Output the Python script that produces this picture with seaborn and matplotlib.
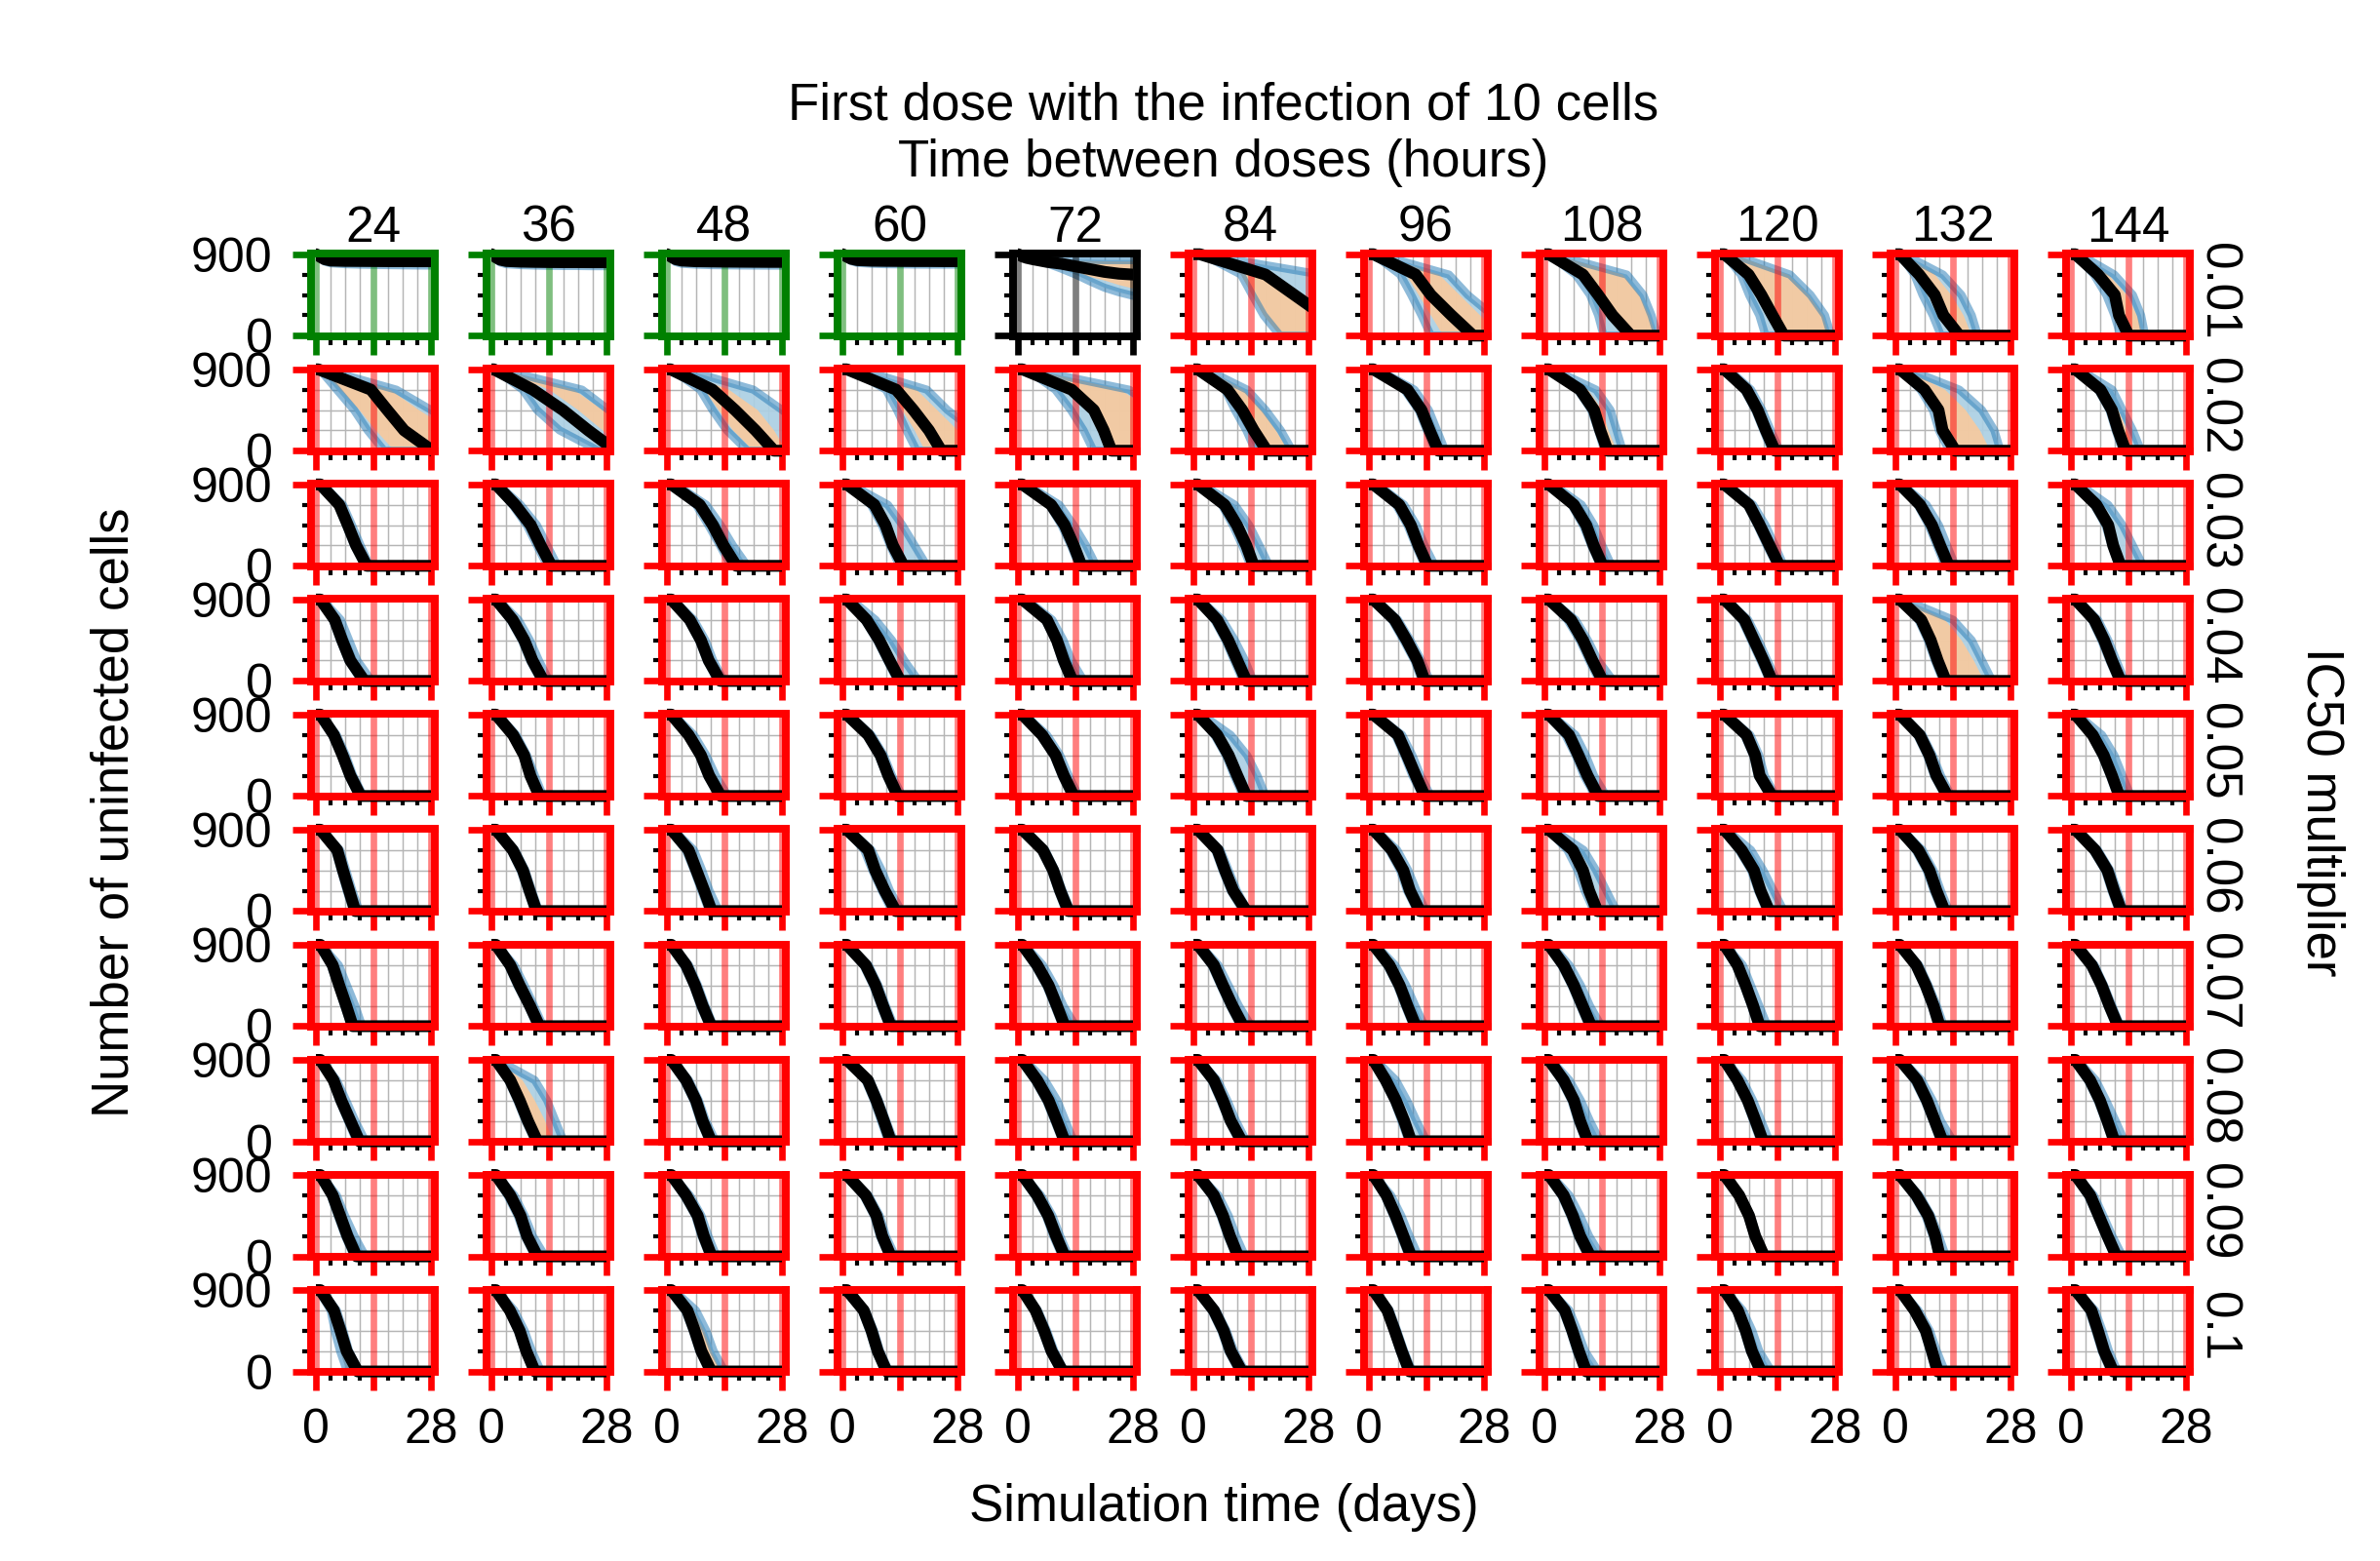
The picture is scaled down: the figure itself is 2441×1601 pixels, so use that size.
import numpy as np
import pandas as pd
import matplotlib
matplotlib.use("Agg")
import matplotlib.pyplot as plt
from matplotlib.patches import Rectangle
import seaborn as sns

# ---------------- data ----------------
HOURS = [24, 36, 48, 60, 72, 84, 96, 108, 120, 132, 144]
IC50 = ["0.01", "0.02", "0.03", "0.04", "0.05", "0.06", "0.07", "0.08", "0.09", "0.1"]
OUTCOME_R0 = ["green", "green", "green", "green", "black", "red", "red", "red", "red", "red", "red"]

# level-crossing representation: days at which curve leaves 900 and reaches 675, 450, 225, 0
LEVELS = [900, 675, 450, 225, 0]

# row 0, columns 0-4: values read at fixed days
T0 = [0, 1, 2, 3.5, 7, 10.5, 14, 17.5, 21, 24.5, 28]
MED_R0A = [[900, 870, 845, 830, 826, 825, 824, 823, 823, 822, 822],
           [900, 865, 840, 825, 818, 815, 813, 812, 812, 811, 811],
           [900, 870, 845, 830, 822, 820, 818, 817, 816, 815, 815],
           [900, 872, 850, 835, 828, 826, 825, 824, 824, 823, 823],
           [900, 875, 860, 845, 815, 795, 765, 735, 705, 685, 675]]
LO_R0A = [[900, 860, 820, 800, 790, 785, 782, 780, 778, 776, 775],
          [900, 850, 810, 790, 780, 775, 772, 770, 770, 768, 768],
          [900, 860, 815, 795, 785, 780, 778, 776, 775, 774, 774],
          [900, 860, 825, 805, 795, 790, 788, 786, 785, 785, 785],
          [900, 880, 865, 840, 800, 740, 675, 600, 530, 480, 440]]
HI_R0A = [[900, 885, 870, 860, 855, 852, 850, 850, 848, 848, 848],
          [900, 880, 865, 855, 850, 848, 846, 845, 845, 844, 844],
          [900, 885, 868, 858, 852, 850, 848, 847, 846, 846, 846],
          [900, 888, 872, 862, 857, 855, 853, 852, 852, 851, 851],
          [900, 895, 885, 870, 860, 850, 840, 838, 835, 835, 835]]
OLO_R0A = [None, None, None, None, [900, 885, 870, 850, 810, 760, 700, 650, 610, 560, 520]]
OHI_R0A = [None, None, None, None, [900, 890, 880, 865, 850, 840, 830, 825, 822, 820, 820]]

# row 0, columns 5-10 (crossing days)
MED_R0B = [[1.5, 17.5, 24.5, 31.5, 38], [1, 11.3, 15, 20, 25.3], [1, 9.3, 13, 16.5, 21],
           [1, 6.9, 10, 12.7, 15.5], [1, 5.7, 9.5, 11.6, 15.5], [1, 6.5, 10.6, 11.6, 14]]
LO_R0B = [[2, 11.5, 14.2, 17, 21], [1, 7.5, 10.2, 12.7, 15], [1, 7.5, 11, 13, 14.3],
          [1, 5, 7, 9.5, 11], [1, 4.5, 6.5, 9, 11], [1, 5.5, 8.5, 10.5, 12]]
HI_R0B = [[2, 31, 45, 60, 75], [2, 19.4, 24, 30, 35], [2, 20, 24, 26, 27.5],
          [3, 17, 22, 25.5, 27], [2, 11.5, 16, 18.5, 20], [2, 10.5, 15, 17, 18]]
OLO_R0B = [[2, 11.5, 14.2, 17, 21], [1, 9, 12, 15, 18], [1, 10, 14, 18, 22],
           [1, 7, 11, 14, 16], [1, 5.5, 9.5, 11.5, 14], [1, 6, 10, 11.5, 13.5]]
OHI_R0B = [[2, 19, 26, 33, 40], [2, 17, 22, 27, 32], [2, 19, 23, 25.5, 27],
           [3, 16.5, 21.5, 25, 26.5], [2, 9.5, 13.5, 16.5, 18.5], [2, 9, 13.5, 16, 17.5]]

MED_R1 = [[0.5, 13.3, 17.3, 21.4, 28.3], [0.5, 10, 17.3, 23.5, 30.2], [0.8, 11, 16.5, 21.5, 26],
          [1, 13, 17.2, 21, 24], [1, 13, 18.4, 20.8, 22.7], [1, 8.2, 11.8, 14.6, 17.8],
          [1, 9.3, 12.7, 14.7, 16.8], [1, 8.6, 12, 13.5, 15.3], [1, 6.4, 9.1, 11.1, 13.3],
          [1, 7, 10.4, 11.4, 14.5], [1, 7.1, 9.9, 11.4, 13.2]]
LO_R1 = [[0.8, 5, 9.2, 12.5, 16.5], [0.8, 7.5, 11, 16.5, 26], [1, 8, 11, 14.5, 19.5],
         [2, 10.5, 13.2, 15.5, 18], [2, 9, 12.8, 15.9, 18.3], [2, 7.6, 10, 12.8, 15],
         [1, 8.5, 12, 14, 16], [1, 8, 11.3, 13, 14.5], [1, 5.8, 8.5, 10.5, 12.5],
         [1, 6, 9, 10.5, 13], [1, 6.5, 9.3, 10.8, 12.5]]
HI_R1 = [[2, 19.5, 28, 36, 44], [2, 22, 28.5, 36, 44], [4, 21, 28, 34, 40],
         [4, 20.5, 25.5, 32, 38], [3, 27, 34, 40, 46], [3, 13, 17.5, 21.2, 24],
         [2, 11, 14.5, 16.5, 18.5], [2, 12.5, 16, 17.5, 19], [2, 7.5, 10.2, 12.3, 14.5],
         [3, 15.5, 21, 24, 25.5], [2, 10, 12.5, 15, 17]]
OLO_R1 = [[1, 6, 10.5, 14.5, 19], [1, 14, 21, 27, 33], [1, 9, 12.5, 16, 21],
          [2, 11.5, 14.5, 17.5, 20], [2, 13, 18, 21, 23], [2, 8.5, 11.5, 14.5, 17.5],
          [1, 9, 12.5, 14.5, 16.5], [1, 8.5, 12, 13.5, 15.3], [1, 6.2, 9, 11, 13],
          [1, 7, 10.5, 11.5, 14.5], [1, 7, 9.8, 11.3, 13]]
OHI_R1 = [[2, 18, 25, 33, 40], [2, 20, 27, 34, 40], [2, 15, 22, 26, 29],
          [3, 18, 23, 28, 33], [3, 25, 32, 38, 44], [3, 12, 16.5, 20, 23],
          [2, 10, 13.5, 15.8, 17.8], [2, 10.5, 14, 15.5, 17.5], [2, 7, 9.8, 12, 14],
          [2, 12, 17, 20.5, 23], [2, 8.5, 11.5, 13.5, 15.5]]

MED_R2 = [[1, 5.6, 7.7, 9.7, 12.3], [1, 5.7, 9.5, 11.9, 14.5], [1, 7.9, 11.1, 13.7, 16.8],
          [1, 7.7, 10.4, 12.2, 14.8], [1, 8, 11.3, 13.5, 15.4], [1, 7.5, 10.5, 12.8, 14.6],
          [1, 7.3, 10.1, 12, 14.2], [1, 7.1, 10.1, 11.9, 14.1], [1, 7, 9.6, 12, 14.4],
          [1, 5.9, 8.8, 10.8, 12.9], [1, 6.1, 9, 10.2, 12]]
LO_R2 = [[0.8, 5.2, 7.2, 9.2, 11.8], [0.8, 5, 8.5, 11, 13.5], [1, 7, 10, 12.8, 15.5],
         [1, 6.8, 9.5, 11.5, 13.8], [1, 7.5, 10.5, 12.8, 14.8], [1, 6.8, 9.5, 11.8, 13.8],
         [1, 6.5, 9.3, 11.3, 13.5], [1, 6.5, 9.3, 11.3, 13.5], [1, 6.5, 9, 11.3, 13.8],
         [1, 5.3, 8, 10, 12], [1, 5.5, 8.3, 9.8, 11.5]]
HI_R2 = [[1.5, 6.5, 8.7, 10.8, 13], [1.5, 7, 11, 13.5, 16], [2, 9.5, 13, 16, 19.5],
         [2, 11, 14.5, 17.5, 20.5], [2, 10, 13.5, 16.5, 19], [2, 10, 13.5, 16, 18.4],
         [2, 8.5, 11.5, 13.5, 16], [2, 9, 12, 14, 16.3], [1.5, 8, 11, 13.3, 15.5],
         [1.5, 7.5, 10.5, 12.5, 14.5], [2, 9, 12.5, 15, 17.5]]

MED_R3 = [[1, 4.5, 6.3, 8.3, 11.7], [1, 5.1, 7.9, 9.9, 12.6], [1, 5.5, 8.2, 10.1, 12.9],
          [1, 5.8, 8.9, 11.4, 14], [1, 7, 9.4, 11.1, 13.2], [1, 5.7, 8.4, 10.6, 12.8],
          [1, 6.2, 9.1, 11.7, 13.5], [1, 6.4, 9.3, 11.6, 14.1], [1, 5.9, 8.2, 10.5, 12.6],
          [1, 6.2, 8.5, 10.2, 12.2], [1, 5.6, 8, 9.9, 12]]
LO_R3 = [[0.8, 4, 5.8, 7.8, 11], [0.8, 4.5, 7.3, 9.3, 12], [0.8, 5, 7.7, 9.6, 12.3],
         [1, 5.3, 8.3, 10.8, 13.3], [1, 6.5, 9, 10.6, 12.7], [0.8, 5, 7.7, 9.8, 12],
         [0.8, 5.5, 8.3, 11, 12.8], [0.8, 5.5, 8.5, 10.8, 13.3], [0.8, 5.2, 7.5, 9.8, 12],
         [0.8, 5.5, 7.8, 9.5, 11.5], [0.8, 5, 7.3, 9.3, 11.5]]
HI_R3 = [[1.5, 6, 8, 10, 13.5], [1.5, 6.5, 9.3, 11.5, 14], [1.5, 6.5, 9.3, 11.2, 13.8],
         [2, 8, 12, 15, 18.5], [2, 8.3, 11, 13, 16], [1.5, 7, 10, 12.5, 14.5],
         [1.5, 7, 10, 12.7, 14.8], [1.5, 7.5, 10.5, 13, 16.7], [1.5, 6.8, 9.3, 11.5, 13.8],
         [2, 14, 18.5, 21, 23.5], [1.5, 6.5, 9, 11, 13]]

MED_R4 = [[1, 4.3, 6.4, 8.3, 10.8], [1, 5.2, 7.9, 9.4, 11.6], [1, 5.2, 8.2, 10.2, 13],
          [1, 6.2, 9.2, 11.1, 13.4], [1, 5.8, 9.1, 11.1, 13.5], [1, 5.7, 8.5, 10.6, 12.8],
          [1, 7, 9.2, 11.3, 13.5], [1, 5.9, 8.2, 10.4, 13], [1, 6.4, 8.5, 9.6, 12.6],
          [1, 5.8, 8.2, 9.9, 12.6], [1, 5.2, 7.9, 9.9, 11.7]]
LO_R4 = [[0.5, 3.8, 6, 7.8, 10.3], [0.8, 4.8, 7.5, 9, 11.2], [0.8, 4.8, 7.7, 9.7, 12.5],
         [0.8, 5.7, 8.7, 10.6, 12.9], [0.8, 5.3, 8.6, 10.6, 13], [0.8, 5, 7.8, 9.8, 12],
         [0.8, 6.3, 8.5, 10.5, 13], [0.8, 5, 7.5, 9.5, 12.3], [0.8, 5.8, 8, 9.1, 12],
         [0.8, 5.2, 7.6, 9.3, 12], [0.8, 4.8, 7.4, 9.4, 11.2]]
HI_R4 = [[1.2, 5, 7.2, 9, 11.5], [1.5, 6, 8.6, 10.5, 12.5], [1.5, 6.5, 9.5, 11.8, 14.8],
         [1.5, 7, 10, 12, 14.5], [1.5, 7, 10.2, 12.3, 14.7], [2, 9, 13, 15.5, 17.5],
         [1.5, 8, 10.5, 12.5, 15], [1.5, 7.5, 10, 12, 15], [1.5, 7.3, 9.5, 10.8, 13.5],
         [1.5, 6.5, 9, 11, 13.5], [1.5, 7.5, 10.5, 12.5, 14.5]]

MED_R5 = [[1, 5.1, 6.5, 8, 9.5], [1, 5.1, 7.6, 9.2, 10.9], [1, 5.2, 7.1, 9, 10.8],
          [1, 6.2, 7.9, 10.2, 12.9], [1, 6, 8.5, 10.2, 12.2], [1, 5.8, 7.6, 9.6, 12.8],
          [1, 5.5, 8.3, 9.9, 12.3], [1, 6.8, 9.3, 10.8, 12.8], [1, 5.2, 8.2, 9.8, 11.9],
          [1, 5.5, 8.2, 9.9, 11.9], [1, 5.8, 8.8, 10.4, 12.2]]
LO_R5 = [[0.6, 4.6, 6, 7.4, 9], [0.6, 4.6, 7, 8.7, 10.4], [0.6, 4.5, 6.5, 8.3, 10.2],
         [0.8, 5.2, 7.2, 9.5, 12], [0.8, 5.5, 8, 9.7, 11.6], [0.8, 5.2, 7, 9, 12],
         [0.8, 4.8, 7.5, 9.2, 11.7], [0.8, 5.5, 8, 9.7, 12], [0.8, 4.5, 7.5, 9.2, 11.3],
         [0.8, 4.8, 7.5, 9.2, 11.3], [0.8, 5.2, 8.2, 9.8, 11.6]]
HI_R5 = [[1.2, 5.8, 7.3, 8.8, 10.5], [1.2, 5.7, 8.2, 9.8, 11.5], [1.5, 6.5, 8.5, 10.3, 12.6],
         [1.5, 7, 9.5, 11.5, 14.3], [1.5, 6.6, 9, 10.8, 12.8], [1.5, 6.5, 8.5, 10.5, 13.2],
         [1.5, 6.8, 9.5, 11.5, 13.8], [2, 9.5, 12.5, 15, 17.5], [1.5, 7.5, 10.5, 13, 15.5],
         [1.5, 6.5, 9.2, 11, 13], [1.5, 6.5, 9.5, 11.2, 13]]

MED_R6 = [[1, 4, 5.6, 7.3, 8.9], [1, 4.5, 6.8, 9.3, 11.6], [1, 4.6, 6.8, 8.6, 10.7],
          [1, 5.6, 8, 9.8, 11.7], [1, 4.6, 7.4, 9.4, 11.3], [1, 4.9, 7.1, 9.4, 12],
          [1, 4.9, 7.4, 9.3, 11.3], [1, 4.6, 7.1, 9.2, 11.3], [1, 4.2, 6.2, 8, 9.6],
          [1, 5, 7.3, 9.2, 10.7], [1, 5, 7.4, 9.3, 11.4]]
LO_R6 = [[0.6, 3.5, 5.2, 6.8, 8.5], [0.6, 4, 6.2, 8.8, 11], [0.6, 4, 6.3, 8, 10.2],
         [0.6, 5, 7.4, 9.2, 11.2], [0.6, 4, 6.8, 8.8, 10.8], [0.6, 4.3, 6.5, 8.8, 11.4],
         [0.6, 4.3, 6.8, 8.7, 10.7], [0.6, 4, 6.5, 8.6, 10.7], [0.6, 3.7, 5.7, 7.5, 9.1],
         [0.6, 4.5, 6.8, 8.7, 10.2], [0.6, 4.5, 6.9, 8.8, 10.9]]
HI_R6 = [[1.2, 5.5, 7.5, 9.5, 11.2], [1.2, 5.5, 8, 10.3, 12.5], [1.2, 5.3, 7.5, 9.3, 11.3],
         [1.2, 6.3, 8.7, 10.5, 12.5], [1.5, 6, 8.8, 11, 14], [1.5, 6, 8.5, 11, 14],
         [1.5, 6.3, 9, 11.2, 13.5], [1.5, 6, 8.8, 11, 13.8], [1.2, 5.5, 7.5, 9.5, 11.5],
         [1.2, 5.7, 8, 10, 11.7], [1.2, 5.7, 8, 10, 12]]

MED_R7 = [[1, 4.2, 6.1, 8.3, 10.5], [1, 4.5, 6.8, 8.8, 11.1], [1, 4.6, 7, 8.6, 10.7],
          [1, 6.1, 8.2, 10, 11.7], [1, 4.6, 7.4, 9.4, 11.3], [1, 4.9, 7.1, 9, 11.7],
          [1, 4, 6.5, 8.5, 10.2], [1, 4.6, 7.1, 8.6, 10.5], [1, 4.2, 6.7, 8.6, 10.4],
          [1, 5.2, 7.6, 9.5, 11.4], [1, 4.6, 7, 8.8, 10.5]]
LO_R7 = [[0.6, 3.8, 5.6, 7.7, 9.8], [0.6, 4, 6.2, 8.2, 10.5], [0.6, 4, 6.4, 8, 10.2],
         [0.6, 5.5, 7.6, 9.3, 11], [0.6, 4, 6.8, 8.8, 10.8], [0.6, 4.3, 6.5, 8.5, 11],
         [0.6, 3.5, 6, 7.8, 9.6], [0.6, 4, 6.5, 8, 10], [0.6, 3.7, 6.2, 8, 9.8],
         [0.6, 4.5, 7, 9, 10.8], [0.6, 4, 6.4, 8.3, 10]]
HI_R7 = [[1.2, 5, 7.3, 9.5, 12], [1.5, 10.5, 13.5, 15.5, 17.5], [1.2, 5.3, 7.7, 9.4, 11.8],
         [1.2, 6.6, 8.8, 10.6, 12.5], [1.5, 6.5, 9.5, 11.5, 13.5], [1.2, 5.8, 8.2, 10.3, 12.8],
         [1.5, 6.5, 9.2, 11.5, 14], [1.5, 6, 8.8, 11, 13.5], [1.2, 5.5, 8, 10, 12],
         [1.5, 6.3, 9, 11, 14], [1.5, 6, 8.5, 10.8, 13]]

MED_R8 = [[1, 4, 5.8, 7.6, 9.8], [1, 4.5, 7, 8.6, 11.1], [1, 4.6, 7.4, 8.9, 10.8],
          [1, 5.6, 8.2, 9.6, 11.7], [1, 4.6, 7.3, 9.2, 11.3], [1, 4.9, 7.1, 8.8, 10.8],
          [1, 4.2, 6.4, 8.3, 10.2], [1, 4.6, 6.8, 8.6, 11.1], [1, 4.6, 7, 8.5, 10.7],
          [1, 5, 7.9, 9.6, 10.7], [1, 4.6, 6.7, 8.8, 11]]
LO_R8 = [[0.6, 3.5, 5.2, 7, 9.2], [0.6, 3.8, 6.3, 8, 10.5], [0.6, 4, 6.8, 8.3, 10.3],
         [0.6, 5, 7.6, 9, 11.2], [0.6, 4, 6.7, 8.5, 10.7], [0.6, 4.3, 6.5, 8.2, 10.3],
         [0.6, 3.7, 5.8, 7.7, 9.6], [0.6, 4, 6.2, 8, 10.5], [0.6, 4.2, 6.6, 8.1, 10.4],
         [0.6, 4.4, 7.2, 9, 10.4], [0.6, 4, 6.2, 8.3, 10.5]]
HI_R8 = [[1.2, 5, 7, 9.3, 12], [1.2, 5.5, 8, 10, 13], [1.2, 5.5, 8.3, 10, 12],
         [1.2, 6.3, 9, 10.5, 12.8], [1.2, 5.5, 8.3, 10.2, 12.3], [1.2, 6, 8.5, 10.3, 12.5],
         [1.2, 5.3, 7.8, 9.8, 12], [1.5, 6, 8.6, 10.8, 13.8], [1.2, 5, 7.4, 8.9, 11],
         [1.2, 5.8, 8.6, 10.5, 12.2], [1.2, 5.5, 7.8, 10, 12.5]]

MED_R9 = [[1, 4.3, 5.9, 7.4, 10.1], [1, 4.4, 6.8, 8.4, 10.5], [1, 4.9, 6.7, 8.3, 10.7],
          [1, 5.1, 7, 8.5, 10.7], [1, 4.2, 6.3, 8.1, 10.8], [1, 4.9, 7.3, 9, 11.7],
          [1, 4.4, 6.2, 7.9, 9.8], [1, 4.9, 6.7, 8.3, 10.1], [1, 4.3, 6.2, 7.7, 9.9],
          [1, 4.6, 7.3, 8.8, 10.2], [1, 4.9, 6.5, 8, 10.2]]
LO_R9 = [[0.6, 3.5, 4.5, 5.8, 7.5], [0.6, 4, 6.3, 8, 10], [0.6, 4.3, 6.2, 7.8, 10.2],
         [0.6, 4.6, 6.5, 8, 10.2], [0.6, 3.8, 5.8, 7.6, 10.3], [0.6, 4.3, 6.7, 8.4, 11],
         [0.6, 4, 5.8, 7.4, 9.3], [0.6, 4.3, 6.2, 7.7, 9.6], [0.6, 3.8, 5.7, 7.2, 9.4],
         [0.6, 4.1, 6.8, 8.3, 9.7], [0.6, 4.3, 5.9, 7.4, 9.6]]
HI_R9 = [[1.2, 5, 6.6, 8, 10.5], [1.2, 5.5, 8, 9.8, 12], [1.5, 7, 9.5, 11.3, 14],
         [1.2, 5.6, 7.6, 9.1, 11.3], [1.2, 4.8, 7, 8.8, 11.3], [1.2, 5.5, 8, 9.8, 12.5],
         [1.2, 5, 6.8, 8.5, 10.5], [1.2, 6, 8, 9.8, 13], [1.2, 5.5, 7.8, 9.5, 12.5],
         [1.2, 5.5, 8.3, 10, 12], [1.2, 5.8, 7.6, 9.2, 11.3]]

# panels whose orange band sits on the late side
ORANGE_SPECIAL = {(3, 9): ([1, 6.5, 9, 11, 13], [2, 12, 16, 19, 21.5]),
                  (7, 1): ([1, 4.5, 7, 9, 11.3], [1.2, 7.5, 10.5, 13, 15]),
                  (9, 2): ([0.8, 5, 7, 8.8, 11], [1.2, 6.5, 9, 10.8, 13])}

MED_ROWS = [None, MED_R1, MED_R2, MED_R3, MED_R4, MED_R5, MED_R6, MED_R7, MED_R8, MED_R9]
LO_ROWS = [None, LO_R1, LO_R2, LO_R3, LO_R4, LO_R5, LO_R6, LO_R7, LO_R8, LO_R9]
HI_ROWS = [None, HI_R1, HI_R2, HI_R3, HI_R4, HI_R5, HI_R6, HI_R7, HI_R8, HI_R9]

# ---------------- style ----------------
sns.set_theme(style="white")
plt.rcParams["font.family"] = ["Liberation Sans", "DejaVu Sans"]
plt.rcParams["font.size"] = 12
plt.rcParams["text.color"] = "black"
plt.rcParams["axes.labelcolor"] = "black"
plt.rcParams["xtick.color"] = "black"
plt.rcParams["ytick.color"] = "black"

W, H = 2441, 1601
fig = plt.figure(figsize=(W / 300, H / 300), dpi=300)
fig.patch.set_facecolor("white")

COLORS = {"green": "#008000", "black": "#000000", "red": "#ff0000"}
C_BLUE, C_PEACH, C_TAN, C_LBLUE = "#1f77b4", "#fdc999", "#cdbcab", "#cfe6ef"

AX_L0, AX_W, DX = 318.7, 127.6, 180.0
AX_T0, AX_H, DY = 260.3, 84.4, 118.04
LW_FRAME = 1.9
LABEL_FS = 12.7


def crossing_curve(times):
    t = [0.0] + list(times)
    y = [900] + LEVELS
    if t[-1] < 28:
        t.append(28.0)
        y.append(0)
    return np.array(t, float), np.array(y, float)


for r in range(10):
    for c in range(11):
        left = (AX_L0 + DX * c) / W
        bottom = 1 - (AX_T0 + DY * r + AX_H) / H
        ax = fig.add_axes([left, bottom, AX_W / W, AX_H / H])
        fc = COLORS[OUTCOME_R0[c]] if r == 0 else COLORS["red"]
        clip = Rectangle((0, -100), 28, 1200, transform=ax.transData)

        inner_color = C_PEACH if r < 2 else C_TAN
        if r == 0 and c < 5:
            bt, by = np.array(T0, float), np.array(MED_R0A[c], float)
            lt, ly = bt, np.array(LO_R0A[c], float)
            ht, hy = bt, np.array(HI_R0A[c], float)
            if OLO_R0A[c] is not None:
                olt, oly = bt, np.array(OLO_R0A[c], float)
                oht, ohy = bt, np.array(OHI_R0A[c], float)
            else:
                olt, oly, oht, ohy = lt, ly, bt, by
        else:
            if r == 0:
                med, lo, hi = MED_R0B[c - 5], LO_R0B[c - 5], HI_R0B[c - 5]
                olo, ohi = OLO_R0B[c - 5], OHI_R0B[c - 5]
            elif r == 1:
                med, lo, hi = MED_R1[c], LO_R1[c], HI_R1[c]
                olo, ohi = OLO_R1[c], OHI_R1[c]
            else:
                if (r, c) in ORANGE_SPECIAL:
                    inner_color = C_PEACH
                med, lo, hi = MED_ROWS[r][c], LO_ROWS[r][c], HI_ROWS[r][c]
                olo, ohi = ORANGE_SPECIAL.get((r, c), (lo, med))
            bt, by = crossing_curve(med)
            lt, ly = crossing_curve(lo)
            ht, hy = crossing_curve(hi)
            olt, oly = crossing_curve(olo)
            oht, ohy = crossing_curve(ohi)

        # bands: light-blue envelope with a blue tint, inner peach band, blue edges
        polys = []
        polys += ax.fill(np.r_[lt, ht[::-1]], np.r_[ly, hy[::-1]], color=C_LBLUE, alpha=0.9,
                         lw=0, zorder=1.0)
        polys += ax.fill(np.r_[lt, ht[::-1]], np.r_[ly, hy[::-1]], color=C_BLUE, alpha=0.18,
                         lw=0, zorder=1.02)
        polys += ax.fill(np.r_[olt, oht[::-1]], np.r_[oly, ohy[::-1]], color=inner_color,
                         alpha=0.85, lw=0, zorder=1.1)
        for pp in polys:
            pp.set_clip_path(clip)
        for tt, yy in ((lt, ly), (ht, hy)):
            ln, = ax.plot(tt, yy, color=C_BLUE, alpha=0.5, lw=2.0, zorder=1.2,
                          solid_joinstyle="round")
            ln.set_clip_path(clip)

        # dose lines
        for xv in (0, 14, 28):
            ax.axvline(xv, color=fc, alpha=0.5, lw=1.6, zorder=2.0)

        # median line through seaborn
        df = pd.DataFrame({"t": bt, "y": by})
        sns.lineplot(data=df, x="t", y="y", ax=ax, color="black", linewidth=2.9,
                     sort=False, estimator=None, zorder=2.2)
        ax.lines[-1].set_clip_path(clip)

        ax.set_xlim(-1.35, 28.95)
        ax.set_ylim(-5, 905)
        ax.set_xticks([0, 14, 28])
        ax.set_xticks([3.5, 7, 10.5, 17.5, 21, 24.5], minor=True)
        ax.set_yticks([0, 900])
        ax.set_yticks([225, 450, 675], minor=True)
        ax.set_xlabel("")
        ax.set_ylabel("")
        ax.set_axisbelow(True)
        ax.grid(False, which="major")
        ax.grid(True, which="minor", axis="x", color="#b5b5b5", lw=0.35)
        if r > 0:
            ax.grid(True, which="minor", axis="y", color="#b5b5b5", lw=0.35)
        for s in ax.spines.values():
            s.set_visible(True)
            s.set_color(fc)
            s.set_linewidth(LW_FRAME)
        ax.tick_params(which="major", direction="out", length=4.6, width=1.6, color=fc,
                       labelcolor="black", labelsize=12, bottom=True, left=True)
        ax.tick_params(which="minor", direction="out", length=2.2, width=1.0, color="black",
                       bottom=True, left=True)
        ax.tick_params(axis="y", which="major", pad=4.8)
        ax.tick_params(axis="x", which="major", pad=4.2)
        if c == 0:
            ax.set_yticklabels(["0", "900"])
        else:
            ax.set_yticklabels([])
        if r == 9:
            ax.set_xticklabels(["0", "", "28"])
        else:
            ax.set_xticklabels([])
        if r == 0:
            ax.set_title(str(HOURS[c]), fontsize=12.3, pad=3.0, color="black")
        if c == 10:
            yc = AX_T0 + DY * r + AX_H / 2 - 4
            fig.text(2274 / W, 1 - yc / H, IC50[r], rotation=270, ha="center", va="center",
                     fontsize=12.3)

fig.text(1255 / W, 1 - 122.7 / H, "First dose with the infection of 10 cells",
         ha="center", va="baseline", fontsize=LABEL_FS)
fig.text(1255 / W, 1 - 180.5 / H, "Time between doses (hours)",
         ha="center", va="baseline", fontsize=LABEL_FS)
fig.text(1255 / W, 1 - 1546 / H, "Simulation time (days)", ha="center", va="center",
         fontsize=LABEL_FS)
fig.text(117 / W, 1 - 833 / H, "Number of uninfected cells", rotation=90, ha="center",
         va="center", fontsize=LABEL_FS)
fig.text(2380 / W, 1 - 833 / H, "IC50 multiplier", rotation=270, ha="center", va="center",
         fontsize=LABEL_FS)

fig.savefig("out.png", dpi=300, facecolor="white")
